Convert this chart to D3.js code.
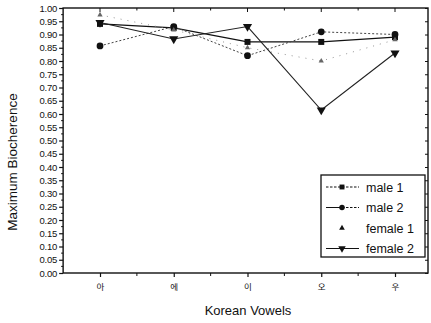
<!DOCTYPE html>
<html><head><meta charset="utf-8">
<script src="https://cdn.jsdelivr.net/npm/d3@7"></script>
<style>body{margin:0;background:#fff}svg{display:block}</style>
</head><body>
<script>
const categories = ["아","에","이","오","우"];
const male1   = [0.94, 0.925, 0.872, 0.872, 0.89];
const male2   = [0.857, 0.93, 0.82, 0.91, 0.90];
const female1 = [0.974, 0.917, 0.85, 0.80, 0.88];
const female2 = [0.945, 0.883, 0.93, 0.615, 0.83];
const yTicks = d3.range(0, 1.0001, 0.05);
const seriesNames = ["male 1","male 2","female 1","female 2"];

const W = 431, H = 323;
const m = {l:63, r:3, t:8, b:50};
const svg = d3.select("body").append("svg").attr("width", W).attr("height", H);
const x = d3.scalePoint().domain(categories).range([100, 395]);
const step = x.step();
const xl = 100 - step/2, xr = W - m.r;
const y = d3.scaleLinear().domain([0, 1]).range([273, 8]);
const ink = "#111";
const font = "Arial, 'Liberation Sans', sans-serif";

// frame
svg.append("rect").attr("x", xl).attr("y", y(1)).attr("width", xr - xl).attr("height", y(0) - y(1))
  .attr("fill", "none").attr("stroke", ink).attr("stroke-width", 1.4);

// y axis
const yAxis = d3.axisLeft(y).tickValues(yTicks).tickFormat(d3.format(".2f")).tickSize(4).tickPadding(2);
const gy = svg.append("g").attr("transform", `translate(${xl},0)`).call(yAxis);
gy.select(".domain").remove();
gy.selectAll("text").attr("font-family", font).attr("font-size", 9.5).attr("fill", ink).attr("letter-spacing", "-0.2");
gy.selectAll("line").attr("stroke", ink).attr("stroke-width", 1.2);
// minor y ticks
const minor = d3.range(0.025, 1, 0.05);
svg.append("g").selectAll("line").data(minor).join("line")
  .attr("x1", xl - 2).attr("x2", xl).attr("y1", d => y(d)).attr("y2", d => y(d)).attr("stroke", ink);
// right axis ticks
const gr = svg.append("g").attr("transform", `translate(${xr},0)`).call(d3.axisLeft(y).tickValues(yTicks).tickFormat("").tickSize(3));
gr.select(".domain").remove(); gr.selectAll("line").attr("stroke", ink);

// x axis
const gx = svg.append("g").attr("transform", `translate(0,${y(0)})`).call(d3.axisBottom(x).tickSize(4).tickPadding(7));
gx.select(".domain").remove();
gx.selectAll("text").attr("font-family", "'Noto Sans CJK KR', sans-serif").attr("font-size", 8.5).attr("fill", ink);
gx.selectAll("line").attr("stroke", ink).attr("stroke-width", 1.2);
const xMinor = categories.slice(0, -1).map(c => x(c) + step/2);
svg.append("g").selectAll("line").data(xMinor).join("line")
  .attr("x1", d => d).attr("x2", d => d).attr("y1", y(0)).attr("y2", y(0) + 3).attr("stroke", ink);
// top ticks
svg.append("g").selectAll("line").data(categories).join("line")
  .attr("x1", d => x(d)).attr("x2", d => x(d)).attr("y1", y(1)).attr("y2", y(1) + 4).attr("stroke", ink);
svg.append("g").selectAll("line").data(xMinor).join("line")
  .attr("x1", d => d).attr("x2", d => d).attr("y1", y(1)).attr("y2", y(1) + 2.5).attr("stroke", ink);

// titles
svg.append("text").attr("x", 248).attr("y", 315).attr("text-anchor", "middle")
  .attr("font-family", font).attr("font-size", 13).attr("fill", ink).text("Korean Vowels");
svg.append("text").attr("transform", `translate(17,162) rotate(-90)`).attr("text-anchor", "middle")
  .attr("font-family", font).attr("font-size", 13.5).attr("fill", ink).text("Maximum Biocherence");

// series
const series = [
  {name:"male 1", vals:male1, dash:null, color:ink, w:1.3, sym:d3.symbolSquare, size:36},
  {name:"male 2", vals:male2, dash:"2,2", color:"#444", w:1, sym:d3.symbolCircle, size:36},
  {name:"female 1", vals:female1, dash:"1,6", color:"#888", w:0.9, sym:d3.symbolTriangle, size:12},
  {name:"female 2", vals:female2, dash:null, color:"#222", w:1.1, sym:d3.symbolTriangle, size:36, rot:180},
];
const line = d3.line().x((d,i) => x(categories[i])).y(d => y(d));
series.forEach(s => {
  svg.append("path").datum(s.vals).attr("d", line).attr("fill", "none")
    .attr("stroke", s.color).attr("stroke-width", s.w).attr("stroke-dasharray", s.dash);
  svg.append("g").selectAll("path").data(s.vals).join("path")
    .attr("d", d3.symbol(s.sym, s.size))
    .attr("transform", (d,i) => `translate(${x(categories[i])},${y(d)}) rotate(${s.rot||0})`)
    .attr("fill", s.name === "female 1" ? "#666" : ink);
});

// legend
const lg = svg.append("g");
lg.append("rect").attr("x", 321).attr("y", 175).attr("width", 104).attr("height", 82)
  .attr("fill", "#fff").attr("stroke", ink).attr("stroke-width", 1.3);
series.forEach((s, i) => {
  const ly = 187 + i * 20.5;
  if (s.name === "male 1") {
    lg.append("line").attr("x1", 326).attr("x2", 359).attr("y1", ly).attr("y2", ly)
      .attr("stroke", ink).attr("stroke-width", 1).attr("stroke-dasharray", "2.5,1.5");
  } else if (s.name === "male 2") {
    lg.append("line").attr("x1", 326).attr("x2", 342).attr("y1", ly).attr("y2", ly).attr("stroke", ink);
    lg.append("line").attr("x1", 342).attr("x2", 359).attr("y1", ly).attr("y2", ly)
      .attr("stroke", ink).attr("stroke-dasharray", "2.5,1.5");
  } else if (s.name === "female 2") {
    lg.append("line").attr("x1", 326).attr("x2", 359).attr("y1", ly).attr("y2", ly).attr("stroke", ink);
  }
  lg.append("path").attr("d", d3.symbol(s.sym, s.name === "female 1" ? 14 : 24))
    .attr("transform", `translate(342,${ly}) rotate(${s.rot||0})`).attr("fill", ink);
  lg.append("text").attr("x", 366).attr("y", ly + 4.5).attr("font-family", font).attr("font-size", 12.5)
    .attr("fill", ink).text(s.name);
});
</script>
</body></html>
